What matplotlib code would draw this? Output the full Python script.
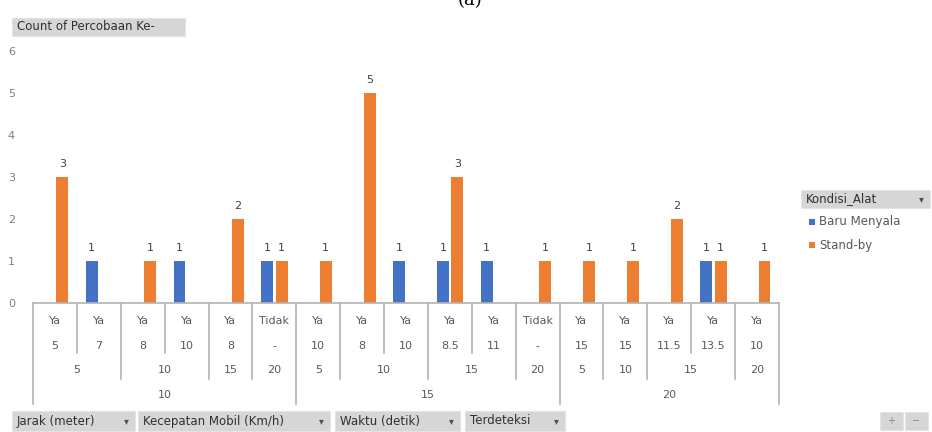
import matplotlib
matplotlib.use("Agg")
import matplotlib.pyplot as plt
from matplotlib.patches import Rectangle
import numpy as np

# pivot rows, innermost level first
terdeteksi = ['Ya', 'Ya', 'Ya', 'Ya', 'Ya', 'Tidak', 'Ya', 'Ya', 'Ya', 'Ya', 'Ya',
              'Tidak', 'Ya', 'Ya', 'Ya', 'Ya', 'Ya']
waktu = ['5', '7', '8', '10', '8', '-', '10', '8', '10', '8.5', '11', '-',
         '15', '15', '11.5', '13.5', '10']
kecepatan = ['5', '10', '15', '20', '5', '10', '15', '20', '5', '10', '15', '20']
kecepatan_n = [2, 2, 1, 1, 1, 2, 2, 1, 1, 1, 2, 1]
jarak = ['10', '15', '20']
jarak_n = [6, 6, 5]

# Count of Percobaan Ke- per Kondisi_Alat
baru_menyala = [0, 1, 0, 1, 0, 1, 0, 0, 1, 1, 1, 0, 0, 0, 0, 1, 0]
stand_by = [3, 0, 1, 0, 2, 1, 1, 5, 0, 3, 0, 1, 1, 1, 2, 1, 1]

BLUE = '#4472C4'
ORANGE = '#ED7D31'
GREY_TXT = '#595959'
LINE = '#b3b3b3'
W, H = 932, 432

fig = plt.figure(figsize=(W / 100, H / 100), dpi=100)
ax = fig.add_axes([33 / W, 1 - 303 / H, (779 - 33) / W, (303 - 51) / H])

n = len(terdeteksi)
centers = np.arange(n) + 0.5
bw = 0.27
for vals, off, col in [(baru_menyala, -0.16, BLUE), (stand_by, 0.17, ORANGE)]:
    for c, v in zip(centers, vals):
        if v <= 0:
            continue
        ax.bar(c + off, v, width=bw, color=col)
        ax.annotate(str(v), (c + off, v), xytext=(0, 6), textcoords='offset points',
                    ha='center', va='bottom', fontsize=8, color='#404040')

ax.set_xlim(0, n)
ax.set_ylim(0, 6)
ax.set_yticks(range(7))
ax.tick_params(axis='y', length=0, pad=13, labelsize=8, labelcolor='#7f7f7f')
ax.set_xticks([])
for s in ['top', 'right', 'left']:
    ax.spines[s].set_visible(False)
ax.spines['bottom'].set_color(LINE)
ax.spines['bottom'].set_linewidth(1.2)

# multi-level category table under the axis
tr = ax.get_xaxis_transform()
def yax(py):
    return (303 - py) / 252.0

row_y = [yax(321), yax(346), yax(370), yax(395)]
for c, t, w in zip(centers, terdeteksi, waktu):
    ax.text(c, row_y[0], t, transform=tr, ha='center', va='center',
            fontsize=8, color=GREY_TXT)
    ax.text(c, row_y[1], w, transform=tr, ha='center', va='center',
            fontsize=8, color=GREY_TXT)

# separator depth depends on the outermost level that changes
depth = {}
for i in range(1, n):
    depth[i] = yax(353)
pos = 0
for lab, k in zip(kecepatan, kecepatan_n):
    ax.text(pos + k / 2, row_y[2], lab, transform=tr, ha='center', va='center',
            fontsize=8, color=GREY_TXT)
    pos += k
    depth[pos] = yax(379)
pos = 0
for lab, k in zip(jarak, jarak_n):
    ax.text(pos + k / 2, row_y[3], lab, transform=tr, ha='center', va='center',
            fontsize=8, color=GREY_TXT)
    pos += k
    depth[pos] = yax(404)
depth[0] = yax(404)
for x, d in depth.items():
    ax.plot([x, x], [0, d], transform=tr, color=LINE, lw=1.2, clip_on=False)


def button(x0, y0, x1, y1, label, arrow=True, size=8.5):
    fig.add_artist(Rectangle((x0 / W, 1 - y1 / H), (x1 - x0) / W, (y1 - y0) / H,
                             transform=fig.transFigure, facecolor='#d6d6d6',
                             edgecolor='#e4e4e4', lw=0.8))
    ym = 1 - (y0 + y1) / 2 / H
    fig.text((x0 + 5) / W, ym, label, ha='left', va='center', fontsize=size,
             color='#303030')
    if arrow:
        fig.text((x1 - 9) / W, ym, '\u25be', ha='center', va='center',
                 fontsize=7, color='#505050')


button(12, 18, 185, 36, 'Count of Percobaan Ke-', arrow=False)
button(801, 190, 930, 208, 'Kondisi_Alat')
button(12, 411, 135, 431, 'Jarak (meter)')
button(138, 411, 330, 431, 'Kecepatan Mobil (Km/h)')
button(335, 411, 460, 431, 'Waktu (detik)')
button(465, 411, 565, 431, 'Terdeteksi')
button(880, 412, 903, 430, '', arrow=False)
button(905, 412, 928, 430, '', arrow=False)
fig.text(891 / W, 1 - 421 / H, '+', ha='center', va='center', fontsize=7, color='#888888')
fig.text(916 / W, 1 - 421 / H, '\u2212', ha='center', va='center', fontsize=7, color='#888888')

# legend
for yy, lab, col in [(222, 'Baru Menyala', BLUE), (245, 'Stand-by', ORANGE)]:
    fig.add_artist(Rectangle((809 / W, 1 - (yy + 3) / H), 6 / W, 6 / H,
                             transform=fig.transFigure, facecolor=col, lw=0))
    fig.text(819 / W, 1 - yy / H, lab, ha='left', va='center', fontsize=8.5,
             color=GREY_TXT)

# panel letter sits at the very top edge
fig.text(470 / W, 1 - 9 / H, '(a)', ha='center', va='bottom', fontsize=13,
         family='DejaVu Serif', color='black')

fig.savefig('out.png', dpi=100, facecolor='white')
